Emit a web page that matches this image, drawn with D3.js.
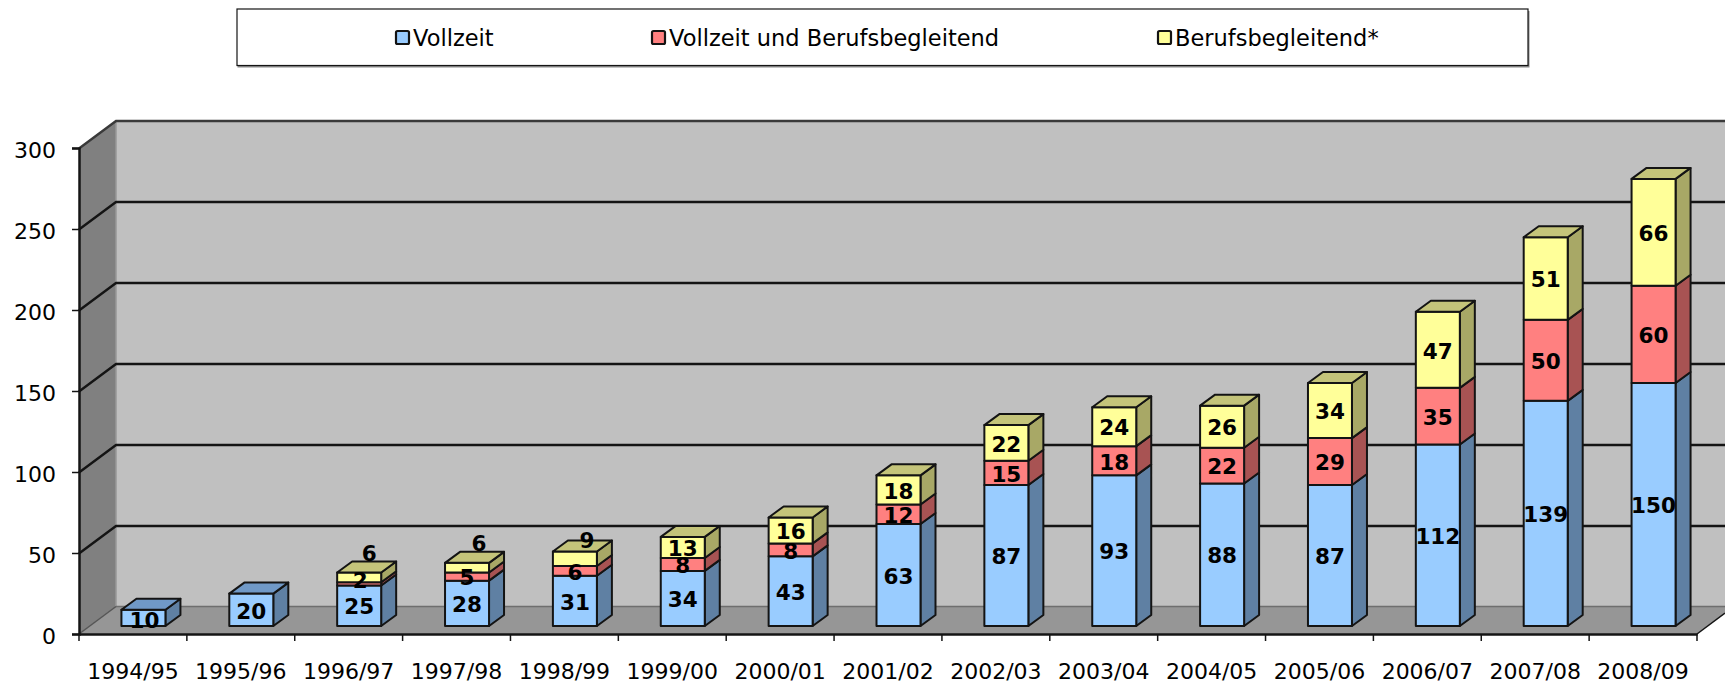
<!DOCTYPE html>
<html><head><meta charset="utf-8">
<script src="https://cdn.jsdelivr.net/npm/d3@7"></script>
<style>
html,body{margin:0;padding:0;background:#fff;overflow:hidden}
svg{display:block}
text{font-family:"DejaVu Sans",sans-serif;fill:#000}
</style></head><body><div id="chart"></div>
<script>
const categories=["1994/95","1995/96","1996/97","1997/98","1998/99","1999/00","2000/01","2001/02","2002/03","2003/04","2004/05","2005/06","2006/07","2007/08","2008/09"];
const seriesNames=["Vollzeit","Vollzeit und Berufsbegleitend","Berufsbegleitend*"];
const vollzeit=[10,20,25,28,31,34,43,63,87,93,88,87,112,139,150];
const beides=[0,0,2,5,6,8,8,12,15,18,22,29,35,50,60];
const berufsbegleitend=[0,0,6,6,9,13,16,18,22,24,26,34,47,51,66];
const yTicks=[0,50,100,150,200,250,300];
const frontColors=["#99ccff","#ff8080","#ffff99"];
const sideColors=["#5f80a3","#a85353","#a8a866"];
const topColors=["#7099c7","#c96a6a","#c4c47a"];
// Labels the original chart had dragged away from their segment centre
const labelNudges={"2|2":[10,-25],"2|1":[1,-5],"3|2":[12,-25],"4|2":[12,-20],"0|0":[1,1]};

const W=1725,H=684;
const svg=d3.select("#chart").append("svg").attr("width",W).attr("height",H);
const INK="#141414";
const wallDX=37,wallDY=-27.5;      // plot depth
const barDX=15,barDY=-11;          // bar depth
const barShiftY=-8;                // bars stand inside the floor

const x=d3.scaleBand().domain(categories).range([79,1697]);
const y=d3.scaleLinear().domain([0,300]).range([634,148]);
const barW=44;
const barX=c=>x(c)+x.bandwidth()/2+10.5-barW/2;

// Walls
const pts=a=>a.map(p=>p.join(",")).join(" ");
const floorEdgeY=y(0)+(W-1697)*wallDY/wallDX;
svg.append("polygon").attr("points",pts([[79,y(300)],[79+wallDX,y(300)+wallDY],[79+wallDX,y(0)+wallDY],[79,y(0)]])).attr("fill","#808080");
svg.append("rect").attr("x",79+wallDX).attr("y",y(300)+wallDY).attr("width",W-79-wallDX).attr("height",y(0)-y(300)).attr("fill","#c0c0c0");
svg.append("polygon").attr("points",pts([[79,y(0)],[79+wallDX,y(0)+wallDY],[W,y(0)+wallDY],[W,floorEdgeY],[1697,y(0)]])).attr("fill","#969696");
svg.append("line").attr("x1",79+wallDX).attr("x2",79+wallDX).attr("y1",y(300)+wallDY).attr("y2",y(0)+wallDY).attr("stroke","#999").attr("stroke-width",1.5);
svg.append("line").attr("x1",79+wallDX).attr("x2",W).attr("y1",y(0)+wallDY).attr("y2",y(0)+wallDY).attr("stroke","#6e6e6e").attr("stroke-width",1.5);
svg.append("line").attr("x1",79).attr("x2",79+wallDX).attr("y1",y(0)).attr("y2",y(0)+wallDY).attr("stroke","#555").attr("stroke-width",1.5);
svg.append("line").attr("x1",1697).attr("x2",W).attr("y1",y(0)).attr("y2",floorEdgeY).attr("stroke",INK).attr("stroke-width",1.5);

// Gridlines
const grid=svg.append("g");
yTicks.filter(t=>t>0).forEach(t=>{
  grid.append("polyline").attr("fill","none").attr("stroke",t===300?"#3a3a3a":INK).attr("stroke-width",2.4)
    .attr("points",pts([[79,y(t)+0.5],[79+wallDX,y(t)+wallDY+0.5],[W,y(t)+wallDY+0.5]]));
});

// Axes
const yAxis=svg.append("g").attr("transform","translate(79,0)").call(d3.axisLeft(y).tickValues(yTicks).tickSize(7).tickPadding(16));
yAxis.selectAll("text").attr("font-size",22).attr("dy","0.45em").style("font-family",'"DejaVu Sans",sans-serif');
yAxis.selectAll("line,path").attr("stroke",INK).attr("stroke-width",1.5);
yAxis.select("path").attr("stroke-width",2.5);

const xAxis=svg.append("g").attr("transform",`translate(0,${y(0)})`).call(d3.axisBottom(x).tickSize(0).tickPadding(29));
xAxis.selectAll("text").attr("font-size",22).style("font-family",'"DejaVu Sans",sans-serif');
xAxis.select("path").attr("stroke",INK).attr("stroke-width",2.5);
const bounds=categories.map(c=>x(c)).concat([x.range()[1]]);
svg.append("g").selectAll("line").data(bounds).join("line")
  .attr("x1",d=>d).attr("x2",d=>d).attr("y1",y(0)).attr("y2",y(0)+7).attr("stroke",INK).attr("stroke-width",1.5);

// Stacked 3D bars
const rows=categories.map((c,i)=>({cat:c,values:[vollzeit[i],beides[i],berufsbegleitend[i]]}));
const bars=svg.append("g").attr("stroke",INK).attr("stroke-width",2).attr("stroke-linejoin","round");
const labels=[];
rows.forEach((r,ci)=>{
  const x0=barX(r.cat),g=bars.append("g");
  let acc=0,topIdx=r.values.reduce((m,v,i)=>v>0?i:m,0);
  r.values.forEach((v,si)=>{
    if(!v)return;
    const yTop=y(acc+v)+barShiftY,yBot=y(acc)+barShiftY;
    g.append("polygon").attr("fill",sideColors[si])
      .attr("points",pts([[x0+barW,yBot],[x0+barW+barDX,yBot+barDY],[x0+barW+barDX,yTop+barDY],[x0+barW,yTop]]));
    g.append("rect").attr("x",x0).attr("y",yTop).attr("width",barW).attr("height",yBot-yTop).attr("fill",frontColors[si]);
    if(si===topIdx){
      g.append("polygon").attr("fill",topColors[si])
        .attr("points",pts([[x0,yTop],[x0+barDX,yTop+barDY],[x0+barW+barDX,yTop+barDY],[x0+barW,yTop]]));
    }
    const n=labelNudges[ci+"|"+si]||[0,0];
    labels.push({t:v,x:x0+barW/2+n[0],y:(yTop+yBot)/2+n[1]+1});
    acc+=v;
  });
});
svg.append("g").selectAll("text").data(labels).join("text")
  .attr("x",d=>d.x).attr("y",d=>d.y).attr("dy","0.36em").attr("text-anchor","middle")
  .attr("font-size",21.5).attr("font-weight","bold").text(d=>d.t);

// Legend
svg.append("rect").attr("x",237.5).attr("y",11).attr("width",1292).attr("height",56.5).attr("fill","#8a8a8a");
svg.append("rect").attr("x",237).attr("y",9).attr("width",1291).attr("height",56.5).attr("fill","#fff").attr("stroke",INK).attr("stroke-width",1.2);
const legendX=d3.scaleOrdinal().domain(seriesNames).range([395,651,1157]);
const lg=svg.append("g").selectAll("g").data(seriesNames).join("g").attr("transform",d=>`translate(${legendX(d)},30)`);
lg.append("rect").attr("x",1).attr("y",1).attr("width",13).attr("height",13).attr("rx",1.5)
  .attr("fill",(d,i)=>frontColors[i]).attr("stroke",INK).attr("stroke-width",2.2);
lg.append("text").attr("x",18).attr("y",15.5).attr("font-size",22.5).text(d=>d);
</script></body></html>
